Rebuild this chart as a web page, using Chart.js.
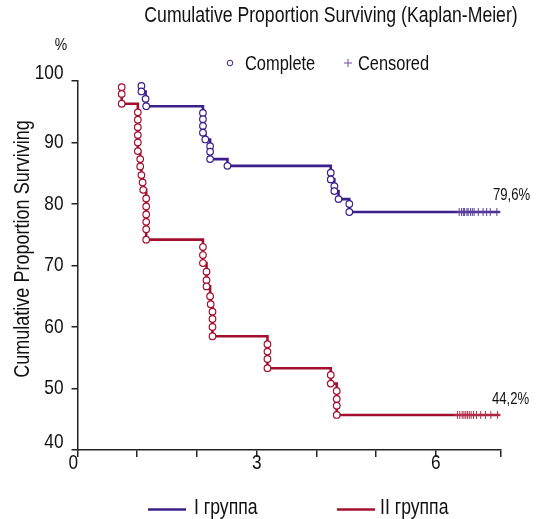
<!DOCTYPE html>
<html lang="en">
<head>
<meta charset="UTF-8">
<title>Cumulative Proportion Surviving (Kaplan-Meier)</title>
<script src="https://cdn.jsdelivr.net/npm/chart.js"></script>
<style>
    html, body { margin: 0; padding: 0; background: #fff; }
    #wrap { width: 541px; height: 519px; }
</style>
</head>
<body>
<div id="wrap"><canvas id="km" width="541" height="519"></canvas></div>
<script>
const FONT = "'Liberation Sans', Arial, sans-serif";
const NARROW = 0.82;   // the original uses a narrow face; squeeze Liberation Sans to match
const BLUE = '#3b1f8a';
const RED = '#a3102f';

// group I: event times and survival (%) after each event
const blueTimes = [1.07, 1.07, 1.14, 1.15, 2.10, 2.10, 2.10, 2.10, 2.14, 2.22, 2.22, 2.22, 2.51,
                   4.24, 4.24, 4.30, 4.30, 4.37, 4.55, 4.55];
const blueSurv = [99.2, 98.3, 97.1, 95.9, 94.8, 93.8, 92.7, 91.6, 90.5, 89.4, 88.5, 87.3, 86.2,
                  85.1, 84.0, 82.9, 82.1, 80.8, 80.0, 78.7];
const blueCensored = [6.39, 6.43, 6.46, 6.48, 6.52, 6.54, 6.58, 6.61, 6.64, 6.71, 6.79, 6.85, 6.91, 7.02];
const blueEnd = 7.07;

// group II
const redTimes = [0.74, 0.74, 0.74, 1.01, 1.01, 1.01, 1.01, 1.01, 1.01, 1.05, 1.05, 1.07, 1.09, 1.10,
                  1.15, 1.15, 1.15, 1.15, 1.15, 1.15, 2.10, 2.10, 2.10, 2.16, 2.16, 2.16, 2.22, 2.23,
                  2.26, 2.26, 2.26, 2.26, 3.18, 3.18, 3.18, 3.18, 4.24, 4.24, 4.34, 4.34, 4.34, 4.34];
const redSurv = [99.0, 97.9, 96.3, 94.9, 93.7, 92.5, 91.2, 90.0, 88.6, 87.3, 86.1, 84.7, 83.5, 82.3,
                 80.9, 79.6, 78.3, 77.1, 75.9, 74.2, 73.0, 71.7, 70.4, 69.0, 67.6, 66.6, 65.0, 63.7,
                 62.5, 61.3, 60.0, 58.5, 57.2, 56.0, 54.8, 53.3, 52.2, 50.8, 49.6, 48.3, 47.2, 45.7];
const redCensored = [6.36, 6.40, 6.44, 6.47, 6.50, 6.53, 6.56, 6.59, 6.63, 6.68, 6.75, 6.83, 6.92, 7.03];
const redEnd = 7.07;

const xTickValues = [0, 1, 2, 3, 4, 5, 6, 7.09];
const xLabelValues = [0, 3, 6];
const finalLabels = ['79,6%', '44,2%'];
const groupNames = ['I группа', 'II группа'];

function events(times, surv) {
    return times.map((t, i) => ({ x: t, y: surv[i] }));
}
function stepLine(times, surv, end) {
    const pts = events(times, surv);
    pts.push({ x: end, y: surv[surv.length - 1] });
    return pts;
}
function censMarks(times, surv) {
    const last = surv[surv.length - 1];
    return times.map(t => ({ x: t, y: last }));
}

const canvas = document.getElementById('km');
const c2d = canvas.getContext('2d');
// every string on this canvas (ticks included) is drawn squeezed horizontally
const plainFill = c2d.fillText.bind(c2d);
c2d.fillText = function (text, x, y, maxWidth) {
    this.save();
    this.translate(x, y);
    this.scale(NARROW, 1);
    plainFill(text, 0, 0);
    this.restore();
};

const labelsPlugin = {
    id: 'kmLabels',
    afterDraw(chart) {
        const ctx = chart.ctx;
        ctx.save();
        ctx.fillStyle = '#111';
        ctx.textBaseline = 'alphabetic';

        ctx.font = '21.5px ' + FONT;
        ctx.textAlign = 'center';
        ctx.fillText('Cumulative Proportion Surviving (Kaplan-Meier)', 331, 22);

        // top legend
        ctx.font = '20px ' + FONT;
        ctx.textAlign = 'left';
        ctx.fillText('Complete', 245, 70);
        ctx.fillText('Censored', 358, 70);
        ctx.strokeStyle = BLUE;
        ctx.lineWidth = 1;
        ctx.beginPath();
        ctx.arc(230, 63, 2.8, 0, Math.PI * 2);
        ctx.stroke();
        ctx.strokeStyle = '#6a52a8';
        ctx.beginPath();
        ctx.moveTo(344, 63); ctx.lineTo(352, 63);
        ctx.moveTo(348, 59); ctx.lineTo(348, 67);
        ctx.stroke();

        // % unit
        ctx.font = '17px ' + FONT;
        ctx.textAlign = 'center';
        ctx.fillText('%', 61, 50);

        // y title
        ctx.save();
        ctx.font = '22px ' + FONT;
        ctx.translate(29, 249);
        ctx.rotate(-Math.PI / 2);
        ctx.textAlign = 'center';
        ctx.fillText('Cumulative Proportion Surviving', 0, 0);
        ctx.restore();

        // final values
        ctx.font = '16px ' + FONT;
        ctx.textAlign = 'left';
        ctx.fillText(finalLabels[0], 493, 200);
        ctx.fillText(finalLabels[1], 492, 404);

        // bottom legend
        ctx.lineWidth = 2.7;
        ctx.strokeStyle = BLUE;
        ctx.beginPath(); ctx.moveTo(148, 509.5); ctx.lineTo(186, 509.5); ctx.stroke();
        ctx.strokeStyle = RED;
        ctx.beginPath(); ctx.moveTo(337, 509.5); ctx.lineTo(375, 509.5); ctx.stroke();
        ctx.font = '21.5px ' + FONT;
        ctx.fillText(groupNames[0], 194, 514);
        ctx.fillText(groupNames[1], 380, 514);
        ctx.restore();
    }
};

const axisColor = '#222';

new Chart(canvas, {
    type: 'line',
    data: {
        datasets: [
            { data: events(blueTimes, blueSurv), showLine: false, pointStyle: 'circle', pointRadius: 3.3,
              pointBackgroundColor: '#fff', pointBorderColor: BLUE, pointBorderWidth: 1.2, order: 0 },
            { data: events(redTimes, redSurv), showLine: false, pointStyle: 'circle', pointRadius: 3.3,
              pointBackgroundColor: '#fff', pointBorderColor: RED, pointBorderWidth: 1.2, order: 0 },
            { data: censMarks(blueCensored, blueSurv), showLine: false, pointStyle: 'cross', pointRadius: 4,
              pointBorderColor: '#5a3f9e', pointBorderWidth: 1, order: 1 },
            { data: censMarks(redCensored, redSurv), showLine: false, pointStyle: 'cross', pointRadius: 4,
              pointBorderColor: '#b3324e', pointBorderWidth: 1, order: 1 },
            { data: stepLine(blueTimes, blueSurv, blueEnd), stepped: true, borderColor: BLUE, borderWidth: 2.6,
              pointRadius: 0, fill: false, order: 2 },
            { data: stepLine(redTimes, redSurv, redEnd), stepped: true, borderColor: RED, borderWidth: 2.6,
              pointRadius: 0, fill: false, order: 2 }
        ]
    },
    options: {
        responsive: false,
        animation: false,
        layout: { padding: { left: 0, top: 81, right: 40, bottom: 0 } },
        plugins: { legend: { display: false }, tooltip: { enabled: false }, title: { display: false } },
        scales: {
            x: {
                type: 'linear',
                min: 0,
                max: 7.09,
                afterBuildTicks: scale => { scale.ticks = xTickValues.map(v => ({ value: v })); },
                afterFit: scale => { scale.height = 69; },
                grid: { drawOnChartArea: false, drawTicks: true, tickLength: 7, color: axisColor, lineWidth: 1.5 },
                border: { display: true, color: axisColor, width: 1.5 },
                ticks: {
                    autoSkip: false,
                    maxRotation: 0,
                    padding: -6,
                    color: '#111',
                    font: { family: FONT, size: 21 },
                    callback: v => xLabelValues.includes(v) ? (v === 0 ? '0\u2002' : String(v)) : ''
                }
            },
            y: {
                min: 40,
                max: 100,
                afterFit: scale => { scale.width = 77.5; },
                grid: { drawOnChartArea: false, drawTicks: true, tickLength: 6, color: axisColor, lineWidth: 1.5 },
                border: { display: true, color: axisColor, width: 1.5 },
                ticks: {
                    stepSize: 10,
                    padding: 8,
                    color: '#111',
                    font: { family: FONT, size: 21, lineHeight: 0.75 },
                    callback: v => (v === 100 || v === 40) ? [String(v), ''] : String(v)
                }
            }
        }
    },
    plugins: [labelsPlugin]
});
</script>
</body>
</html>
